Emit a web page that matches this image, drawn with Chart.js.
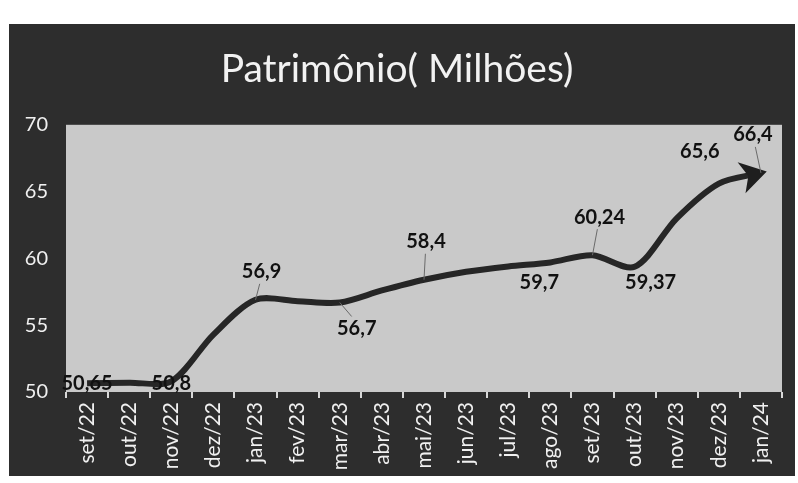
<!DOCTYPE html>
<html>
<head>
<meta charset="utf-8">
<script src="https://cdn.jsdelivr.net/npm/chart.js@4"></script>
<style>
html,body{margin:0;padding:0;background:#fff;}
#wrap{position:relative;width:798px;height:483px;}
</style>
</head>
<body>
<div id="wrap"><canvas id="c" width="798" height="483"></canvas></div>
<script>
const categories = ['set/22','out/22','nov/22','dez/22','jan/23','fev/23','mar/23','abr/23','mai/23','jun/23','jul/23','ago/23','set/23','out/23','nov/23','dez/23','jan/24'];
const patrimonio = [50.65, 50.7, 50.8, 54.3, 56.9, 56.8, 56.7, 57.6, 58.4, 59.0, 59.4, 59.7, 60.24, 59.37, 63.0, 65.6, 66.4];
const valueLabels = ['50,65', null, '50,8', null, '56,9', null, '56,7', null, '58,4', null, null, '59,7', '60,24', '59,37', null, '65,6', '66,4'];
const yTicks = [50, 55, 60, 65, 70];
const chartTitle = 'Patrimônio( Milhões)';

const FONT = 'Lato, "Open Sans", sans-serif';

// label placement (style): [dx, dy, leader]
const labelPlace = {0:[0,0,false],2:[0,2,false],4:[6,-28,true],6:[17,26,true],8:[2,-38,true],11:[-11,20,false],12:[7,-38,true],13:[16,16,false],15:[-19,-32,false],16:[-8,-38,true]};

const bgPlugin = {
  id:'bgPlugin',
  beforeDraw(chart){
    const ctx = chart.ctx;
    ctx.save();
    ctx.fillStyle = '#ffffff';
    ctx.fillRect(0,0,chart.width,chart.height);
    ctx.fillStyle = '#2d2d2d';
    ctx.fillRect(9,24,786,452);
    const a = chart.chartArea;
    ctx.fillStyle = '#c9c9c9';
    ctx.fillRect(a.left, a.top, a.right-a.left, a.bottom-a.top);
    ctx.restore();
  }
};

const arrowPlugin = {
  id:'arrowPlugin',
  afterDatasetsDraw(chart){
    const meta = chart.getDatasetMeta(0);
    const pts = meta.data;
    const p = pts[pts.length-1];
    const cx = p.cp1x !== undefined ? p.cp1x : pts[pts.length-2].x;
    const cy = p.cp1y !== undefined ? p.cp1y : pts[pts.length-2].y;
    let ang = Math.atan2(p.y - cy, p.x - cx);
    const ctx = chart.ctx;
    ctx.save();
    ctx.translate(p.x, p.y);
    ctx.rotate(ang);
    ctx.fillStyle = '#1e1e1e';
    ctx.beginPath();
    ctx.moveTo(6,0);
    ctx.lineTo(-20,-16);
    ctx.lineTo(-13,0);
    ctx.lineTo(-20,16);
    ctx.closePath();
    ctx.fill();
    ctx.restore();
  }
};

const labelPlugin = {
  id:'labelPlugin',
  afterDraw(chart){
    const meta = chart.getDatasetMeta(0);
    const ctx = chart.ctx;
    ctx.save();
    ctx.font = 'bold 20px ' + FONT;
    ctx.textAlign = 'center';
    ctx.textBaseline = 'middle';
    valueLabels.forEach((t,i)=>{
      if(!t) return;
      const p = meta.data[i];
      const pl = labelPlace[i] || [0,-20,false];
      const lx = p.x + pl[0], ly = p.y + pl[1];
      if(pl[2]){
        ctx.strokeStyle = '#6a6a6a';
        ctx.lineWidth = 1;
        ctx.beginPath();
        const dir = pl[1] < 0 ? 1 : -1;
        ctx.moveTo(lx + (p.x-lx)*0.3, ly + dir*12);
        ctx.lineTo(p.x, p.y);
        ctx.stroke();
      }
      ctx.fillStyle = '#111';
      ctx.fillText(t, lx, ly);
    });
    ctx.restore();
  }
};

new Chart(document.getElementById('c'), {
  type:'line',
  data:{
    labels: categories,
    datasets:[
      {data: patrimonio, borderColor:'#262626', borderWidth:6, tension:0.3, pointRadius:0, fill:false},
      {data: patrimonio, borderColor:'#a8a8a8', borderWidth:1.2, tension:0.3, pointRadius:0, fill:false}
    ]
  },
  options:{
    responsive:false,
    animation:false,
    devicePixelRatio:1,
    layout:{padding:{left:12,right:16,top:0,bottom:0}},
    plugins:{
      legend:{display:false},
      tooltip:{enabled:false},
      title:{display:true,text:chartTitle,color:'#f2f2f2',font:{family:FONT,size:39,weight:'normal'},padding:{top:46,bottom:32}}
    },
    scales:{
      x:{
        offset:true,
        grid:{display:true,offset:true,drawOnChartArea:false,drawTicks:true,tickLength:6,color:'#d8d8d8',lineWidth:2},
        border:{display:false},
        ticks:{color:'#f0f0f0',font:{family:FONT,size:21},minRotation:90,maxRotation:90,padding:4,autoSkip:false},
        afterFit(s){ s.height = 91; }
      },
      y:{
        min:50,max:70,
        afterBuildTicks(s){ s.ticks = yTicks.map(v=>({value:v})); },
        grid:{display:false,drawTicks:false},
        border:{display:false},
        ticks:{color:'#f0f0f0',font:{family:FONT,size:20},padding:18},
        afterFit(s){ s.width = 54; }
      }
    }
  },
  plugins:[bgPlugin, arrowPlugin, labelPlugin]
});
</script>
</body>
</html>
